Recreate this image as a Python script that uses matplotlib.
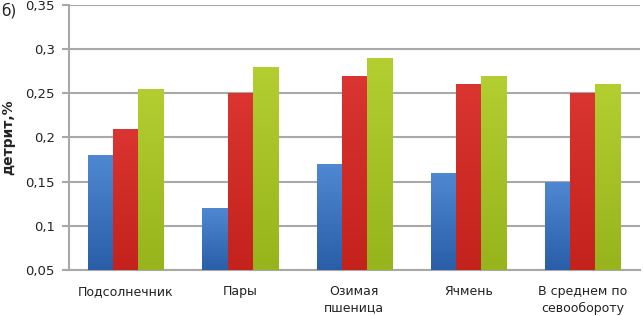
import numpy as np
import matplotlib
matplotlib.use("Agg")
import matplotlib.pyplot as plt
from matplotlib.colors import LinearSegmentedColormap

categories = ["Подсолнечник", "Пары", "Озимая\nпшеница", "Ячмень", "В среднем по\nсевообороту"]
blue_vals = [0.18, 0.12, 0.17, 0.16, 0.15]
red_vals = [0.21, 0.25, 0.27, 0.26, 0.25]
green_vals = [0.255, 0.28, 0.29, 0.27, 0.26]
yticks = [0.05, 0.1, 0.15, 0.2, 0.25, 0.3, 0.35]
ytick_labels = ["0,05", "0,1", "0,15", "0,2", "0,25", "0,3", "0,35"]

# colours (top -> bottom) for the gradient fill
series = [
    (blue_vals, "#3F7BC6", ("#4F88D2", "#2A5EA9")),
    (red_vals, "#D22A24", ("#DA3530", "#C4221D")),
    (green_vals, "#A4C322", ("#B3CE30", "#97B41C")),
]

fig = plt.figure(figsize=(6.43, 3.16), dpi=100)
ax = fig.add_axes([0.107, 0.146, 0.888, 0.838])

x = np.arange(len(categories))
w = 0.22
ybase = 0.05
for i, (vals, col, (ctop, cbot)) in enumerate(series):
    bars = ax.bar(x + (i - 1) * w, np.array(vals) - ybase, w, bottom=ybase,
                  color=col, edgecolor="none", zorder=3)
    cmap = LinearSegmentedColormap.from_list("g%d" % i, [cbot, ctop])
    grad = np.linspace(0, 1, 64).reshape(-1, 1)
    for b in bars:
        x0, y0 = b.get_x(), b.get_y()
        im = ax.imshow(grad, cmap=cmap, origin="lower", aspect="auto",
                       extent=[x0, x0 + b.get_width(), y0, y0 + b.get_height()],
                       zorder=4, interpolation="bilinear")
        im.set_clip_path(b)

ax.set_xlim(-0.5, len(categories) - 0.5)
ax.set_ylim(0.05, 0.35)
ax.set_yticks(yticks)
ax.set_yticklabels(ytick_labels, fontsize=9.5, color="#222222")
ax.set_xticks(x)
ax.set_xticklabels(categories, fontsize=9, color="#222222", linespacing=1.35)
ax.tick_params(axis="x", length=0, pad=11)
ax.tick_params(axis="y", length=5, width=1.5, color="#A8A8A8", pad=5)

ax.grid(axis="y", color="#A8A8A8", linewidth=1.5, zorder=0)
for s in ["top", "right"]:
    ax.spines[s].set_visible(False)
ax.spines["left"].set_color("#A8A8A8")
ax.spines["left"].set_linewidth(1.5)
ax.spines["bottom"].set_color("#A8A8A8")
ax.spines["bottom"].set_linewidth(1.5)

ax.set_ylabel("детрит,%", fontsize=10, fontweight="bold", color="#222222", labelpad=7)
fig.text(0.002, 0.965, "б)", fontsize=11, color="#222222", va="center", ha="left")

fig.savefig("out.png", dpi=100)
